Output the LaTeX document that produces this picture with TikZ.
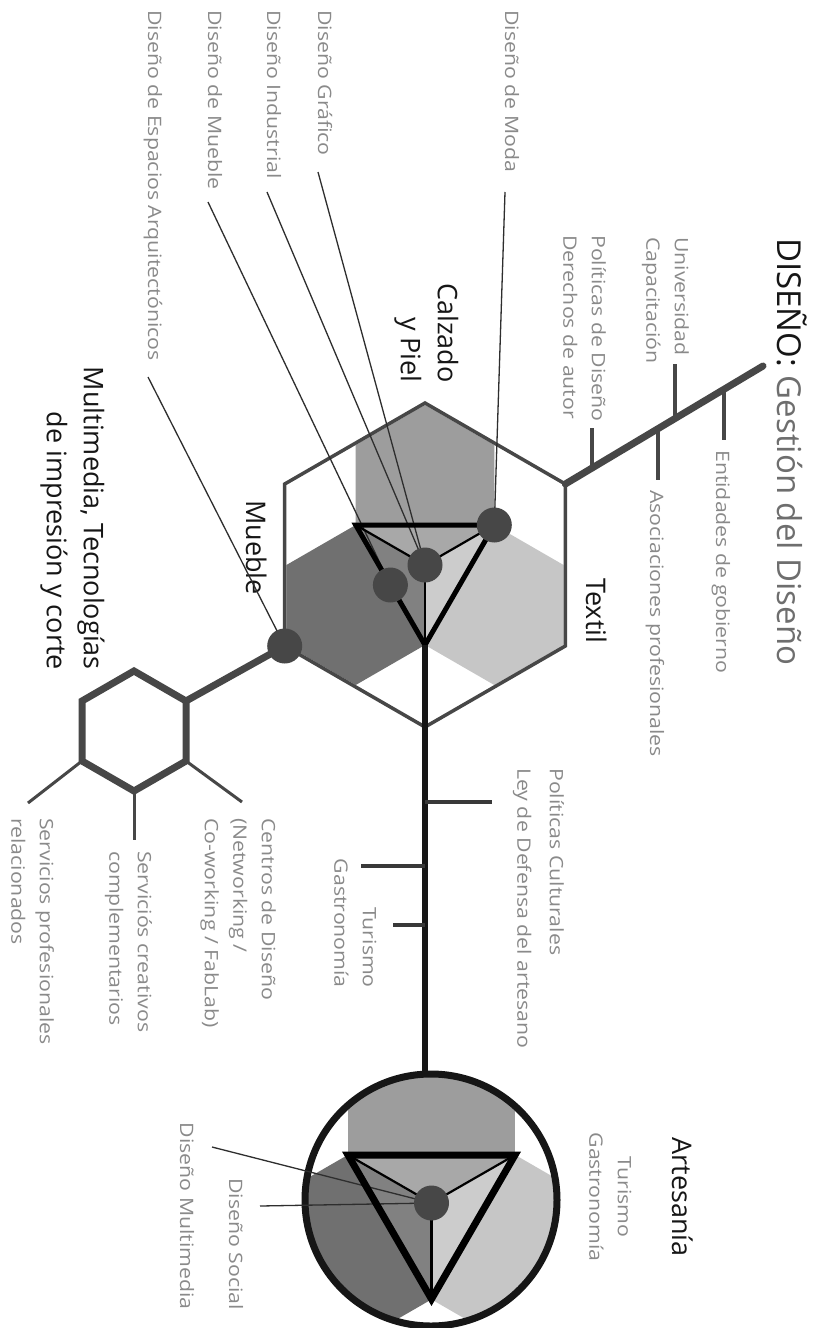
\documentclass[tikz,border=0pt]{standalone}
\usepackage{fontspec}
\setmainfont{Open Sans}
\newfontfamily\labfont[FakeStretch=1.15]{Open Sans}
\usetikzlibrary{calc}
\definecolor{hexmed}{HTML}{9D9D9D}
\definecolor{hexdark}{HTML}{707070}
\definecolor{hexlight}{HTML}{C6C6C6}
\definecolor{linegray}{HTML}{474747}
\definecolor{dotgray}{HTML}{474747}
\definecolor{leadgray}{HTML}{2E2E2E}
\definecolor{labgray}{HTML}{8A8A8A}
\definecolor{titlegray}{HTML}{6E6E6E}
\definecolor{labblack}{HTML}{161616}
\begin{document}
\begin{tikzpicture}[x=1pt,y=-1pt,
  gl/.style={rotate=-90, inner sep=0pt, text=labgray, font=\labfont\fontsize{18.5}{28.5}\selectfont},
  bl/.style={rotate=-90, inner sep=0pt, text=labblack, font=\fontsize{27}{37}\selectfont},
  dot/.style={circle, fill=dotgray, minimum size=35pt, inner sep=0pt},
  hexline/.style={draw=linegray, line width=3.5pt},
  branch/.style={draw=linegray, line width=7pt},
  tick/.style={draw=linegray, line width=4pt},
  leader/.style={draw=leadgray, line width=1.3pt},
  spoke/.style={draw=black, line width=2.2pt},
  tri/.style={draw=black, line width=5pt, line join=miter},
  spine/.style={draw=labblack, line width=6pt},
  hexat/.style n args={3}{insert path={({#1},{#2-#3}) -- ({#1+0.8660254*#3},{#2-0.5*#3}) -- ({#1+0.8660254*#3},{#2+0.5*#3}) -- ({#1},{#2+#3}) -- ({#1-0.8660254*#3},{#2+0.5*#3}) -- ({#1-0.8660254*#3},{#2-0.5*#3}) -- cycle}}
]
\fill[white] (0,0) rectangle (826,1328);
\useasboundingbox (0,0) rectangle (826,1328);

% ---------- coordinates ----------
\coordinate (H1) at (425,403);
\coordinate (H2) at (565.3,484);
\coordinate (H3) at (565.3,646);
\coordinate (H4) at (425,727);
\coordinate (H5) at (284.7,646);
\coordinate (H6) at (284.7,484);
\coordinate (T1) at (355.7,525);
\coordinate (T2) at (494.3,525);
\coordinate (T3) at (425,645);
\coordinate (TC) at (425,565);
\coordinate (TB) at (390.4,585);
\coordinate (S1) at (134,671);
\coordinate (S2) at (186,701);
\coordinate (S3) at (186,761);
\coordinate (S4) at (134,791);
\coordinate (S5) at (82,761);
\coordinate (S6) at (82,701);
\coordinate (bEnd) at (763,366);
\coordinate (U1) at (348,1155);
\coordinate (U2) at (515,1155);
\coordinate (U3) at (431.5,1299);
\coordinate (UC) at (431.5,1203);

% ---------- big hexagon ----------
\fill[white] (H1)--(H2)--(H3)--(H4)--(H5)--(H6)--cycle;
\fill[hexmed, hexat={425}{485}{80}];
\fill[hexdark, hexat={355.7}{605}{80}];
\fill[hexlight, hexat={494.3}{605}{80}];
\fill[white, opacity=.12] (T1)--(T2)--(T3)--cycle;
\draw[hexline, line join=miter] (H1)--(H2)--(H3)--(H4)--(H5)--(H6)--cycle;

% ---------- labels (top) ----------
\node[gl, anchor=base west] (moda) at (505,10) {Diseño de Moda};
\node[gl, anchor=base west] (graf) at (318,10) {Diseño Gráfico};
\node[gl, anchor=base west] (indu) at (267,10) {Diseño Industrial};
\node[gl, anchor=base west] (mueb) at (208,10) {Diseño de Mueble};
\node[gl, anchor=base west] (esp) at (148,10) {Diseño de Espacios Arquitectónicos};
\node[bl, anchor=base west] (mue) at (246,500) {Mueble};

\coordinate (lmoda) at (505,192);
\coordinate (lgraf) at (318,172);
\coordinate (lindu) at (267,192);
\coordinate (lmueb) at (208,202);
\coordinate (lesp) at (148,377);
\draw[leader] (lmoda) -- (T2);
\draw[leader] (lgraf) -- (TC);
\draw[leader] (lindu) -- (TC);
\draw[leader] (lmueb) -- (TB);
\draw[leader] (lesp) -- (H5);

% ---------- triangle ----------
\draw[spoke] (TC) -- (T1);
\draw[spoke] (TC) -- (T2);
\draw[spoke] (TC) -- (T3);
\draw[tri] (T1) -- (T2) -- (T3) -- cycle;

% ---------- top-right branch ----------
\draw[branch, line cap=round] (H2) -- (bEnd);
\coordinate (k1) at ($(H2)!0.803!(bEnd)$);
\coordinate (k2) at ($(H2)!0.555!(bEnd)$);
\coordinate (k3) at ($(H2)!0.469!(bEnd)$);
\coordinate (k4) at ($(H2)!0.135!(bEnd)$);
\draw[tick] (k1) -- ++(0,51);
\draw[tick] (k2) -- ++(0,-55);
\draw[tick] (k3) -- ++(0,51);
\draw[tick] (k4) -- ++(0,-40);

% ---------- small hexagon ----------
\draw[branch] (H5) -- (S2);
\draw[branch, line join=miter] (S1)--(S2)--(S3)--(S4)--(S5)--(S6)--cycle;
\draw[linegray, line width=3pt] (S3) -- ++(56,41);
\draw[linegray, line width=3pt] (S4) -- ++(0,49);
\draw[linegray, line width=3pt] (S5) -- ++(-54,42);

% ---------- artesania circle ----------
\begin{scope}
  \clip (431,1200) circle[radius=124];
  \fill[hexmed, hexat={431.5}{1106.6}{96.4}];
  \fill[hexdark, hexat={348}{1251.2}{96.4}];
  \fill[hexlight, hexat={515}{1251.2}{96.4}];
  \fill[white, opacity=.12] (U1)--(U2)--(U3)--cycle;
\end{scope}
\node[circle, draw=labblack, line width=7pt, minimum size=252pt, inner sep=0pt] (art) at (431,1200) {};

\coordinate (lmult) at (212,1147);
\coordinate (lsoc) at (260,1206);
\draw[leader] (lmult) -- (UC);
\draw[leader] (lsoc) -- (UC);
\draw[spoke] (UC) -- (U1);
\draw[spoke] (UC) -- (U2);
\draw[spoke] (UC) -- (U3);
\draw[tri, line width=7pt] (U1) -- (U2) -- (U3) -- cycle;
\node[dot] (cU) at (UC) {};

% ---------- spine ----------
\draw[spine] (T3) -- (T3 |- art.north);
\coordinate (s1) at (425,802);
\coordinate (s2) at (425,866);
\coordinate (s3) at (425,925);
\draw[tick, draw=labblack!85] (s1) -- ++(67,0);
\draw[tick, draw=labblack!85] (s2) -- ++(-64,0);
\draw[tick, draw=labblack!85] (s3) -- ++(-32,0);

% ---------- dots ----------
\node[dot] (cA) at (T2) {};
\node[dot] (cC) at (TC) {};
\node[dot] (cB) at (TB) {};
\node[dot] (cD) at (H5) {};

% ---------- labels ----------
\node[bl, anchor=base west] (tit) at (777,238) {\fontsize{33}{40}\selectfont DISEÑO: \textcolor{titlegray}{Gestión del Diseño}};
\node[gl, anchor=base west] (ent) at (716,450) {Entidades de gobierno};
\node[gl, align=left, anchor=north west] (uni) at (694.95,237) {\strut Universidad\\Capacitación};
\node[gl, anchor=base west] (aso) at (650,490) {Asociaciones profesionales};
\node[gl, align=left, anchor=north west] (pol) at (611.95,235) {\strut Políticas de Diseño\\Derechos de autor};
\node[bl, anchor=base west] (tex) at (586,578) {Textil};
\node[bl, align=right, anchor=north east] (cal) at (463.9,383) {\strut Calzado\\y Piel};
\node[bl, align=right, anchor=north east] (mul) at (109.9,670) {\strut Multimedia, Tecnologías\\de impresión y corte};

\node[gl, align=left, anchor=north west] (cen) at (281.95,818) {\strut Centros de Diseño\\(Networking /\\Co-working / FabLab)};
\node[gl, align=left, anchor=north west] (ser) at (157.95,851) {\strut Serviciós creativos\\complementarios};
\node[gl, align=left, anchor=north west] (pro) at (59.95,818) {\strut Servicios profesionales\\relacionados};

\node[gl, align=left, anchor=north west] (polc) at (569.95,768) {\strut Políticas Culturales\\[4pt]Ley de Defensa del artesano};
\node[gl, align=right, anchor=north east] (tur) at (382.95,988) {\strut Turismo\\Gastronomía};

\node[bl, anchor=base] (art1) at (672,1197) {Artesanía};
\node[gl, align=center, anchor=north] (tur2) at (637.95,1197) {\strut Turismo\\Gastronomía};
\node[gl, anchor=base east] (soc) at (229,1310) {Diseño Social};
\node[gl, anchor=base east] (mult) at (180,1310) {Diseño Multimedia};
\end{tikzpicture}
\end{document}
